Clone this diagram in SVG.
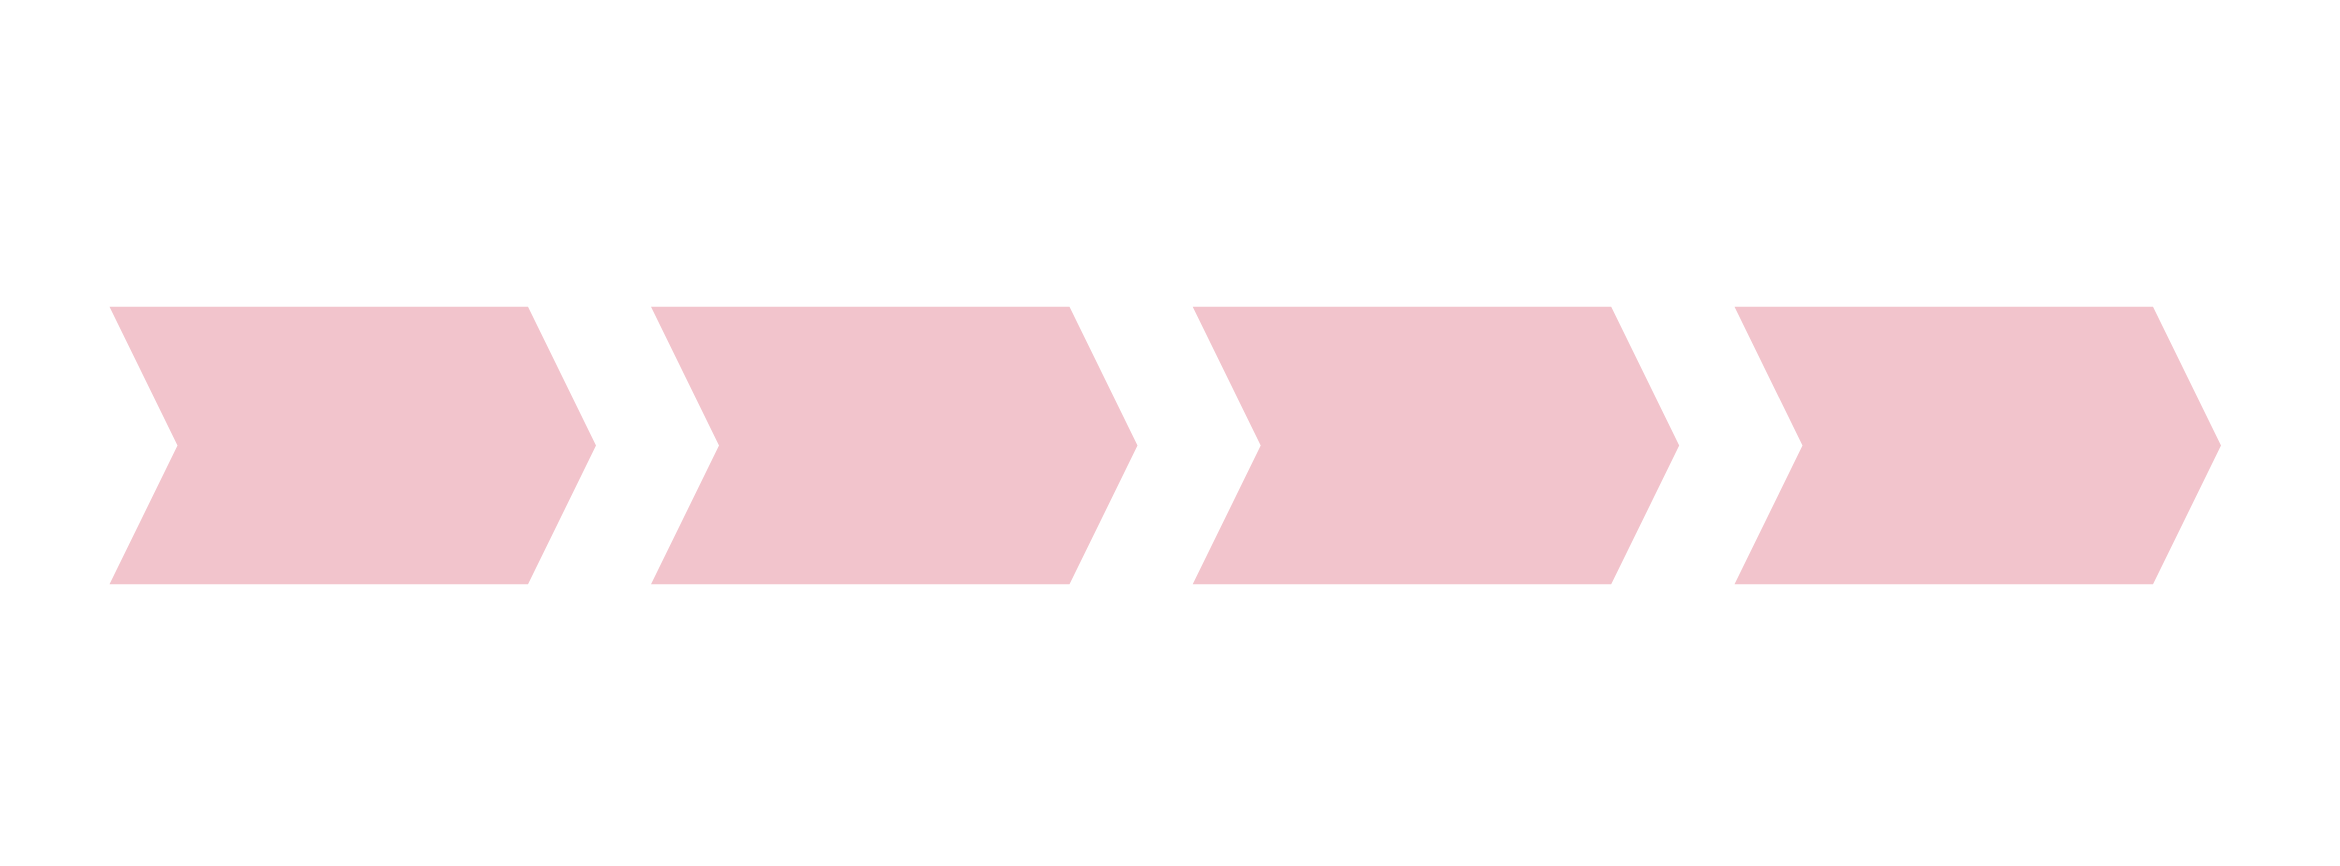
<svg xmlns="http://www.w3.org/2000/svg" width="2340" height="866" viewBox="0 0 2340 866">
<style>
.chev{fill:#F2C4CC;stroke:none}
</style>
<defs>
<polygon id="chevShape" points="0,0 418.5,0 486.5,138.75 418.5,277.5 0,277.5 68,138.75"/>
</defs>
<rect width="2340" height="866" fill="#FFFFFF"/>
<g id="node1" transform="translate(109.5,306.8)"><use href="#chevShape" class="chev"/></g>
<g id="node2" transform="translate(651,306.8)"><use href="#chevShape" class="chev"/></g>
<g id="node3" transform="translate(1192.7,306.8)"><use href="#chevShape" class="chev"/></g>
<g id="node4" transform="translate(1734.5,306.8)"><use href="#chevShape" class="chev"/></g>
<g id="connectors"></g>
</svg>
